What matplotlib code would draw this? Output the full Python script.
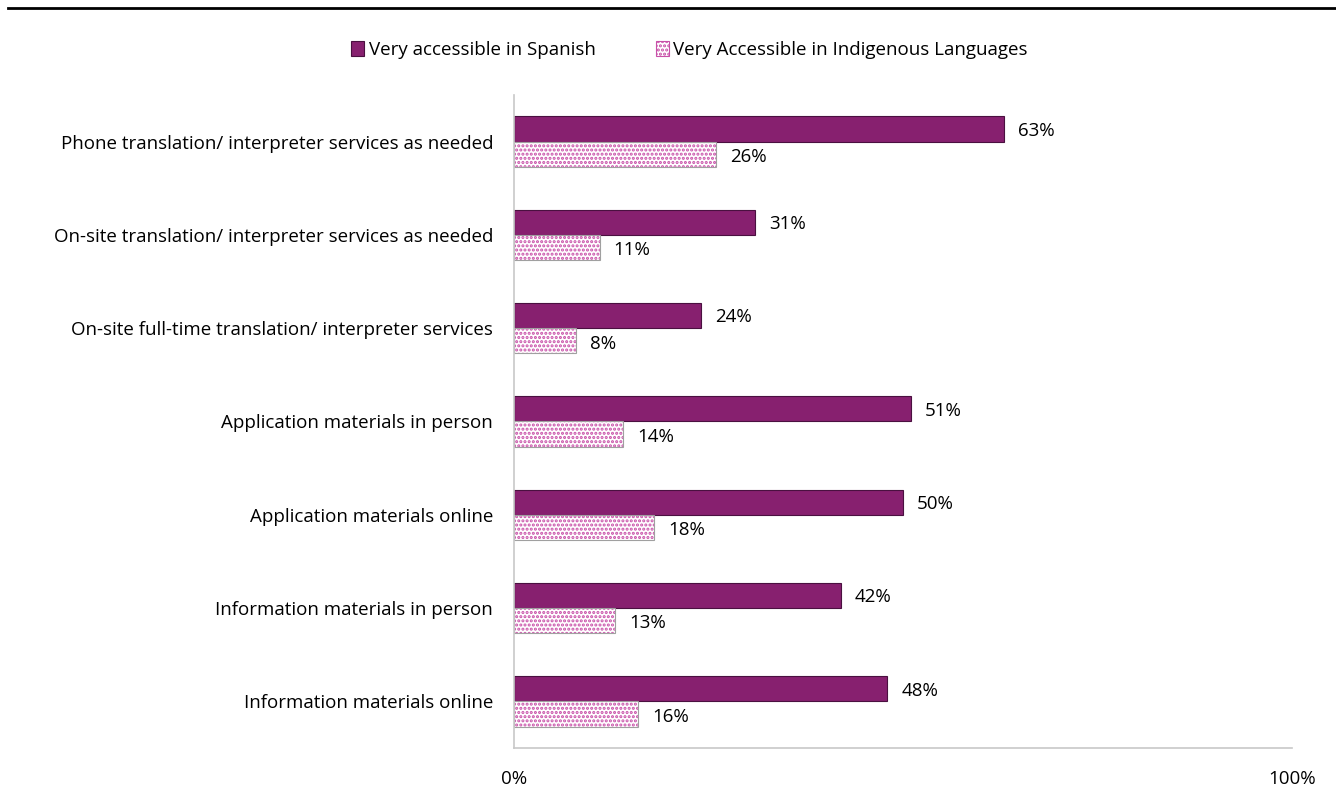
import matplotlib.pyplot as plt
from matplotlib.lines import Line2D
from matplotlib.patches import Patch

plt.rcParams['font.family'] = ['Open Sans', 'DejaVu Sans']
plt.rcParams['hatch.linewidth'] = 1.5

categories = [
    "Phone translation/ interpreter services as needed",
    "On-site translation/ interpreter services as needed",
    "On-site full-time translation/ interpreter services",
    "Application materials in person",
    "Application materials online",
    "Information materials in person",
    "Information materials online",
]
spanish = [63, 31, 24, 51, 50, 42, 48]
indigenous = [26, 11, 8, 14, 18, 13, 16]

purple = '#87206f'
dots = '#c84fa8'
fs = 13.5

fig = plt.figure(figsize=(13.36, 7.91), dpi=100)
ax = fig.add_axes([0.3847, 0.0544, 0.5823, 0.8256])

n = len(categories)
ypos = list(range(n))
h = 0.27

ax.barh([y - h / 2 for y in ypos], spanish, height=h, color=purple,
        edgecolor='#4a1040', linewidth=0.8)
ax.barh([y + h / 2 for y in ypos], indigenous, height=h, color='white',
        edgecolor=dots, hatch='....', linewidth=0)
ax.barh([y + h / 2 for y in ypos], indigenous, height=h, color='none',
        edgecolor='#a0a0a0', linewidth=0.8)

for y, v in zip(ypos, spanish):
    ax.text(v + 1.8, y - h / 2 + 0.02, f"{v}%", va='center', ha='left', fontsize=fs)
for y, v in zip(ypos, indigenous):
    ax.text(v + 1.8, y + h / 2 + 0.03, f"{v}%", va='center', ha='left', fontsize=fs)

ax.set_ylim(n - 0.5, -0.5)
ax.set_xlim(0, 100)
ax.set_yticks(ypos)
ax.set_yticklabels(categories, fontsize=fs)
ax.set_xticks([0, 100])
ax.set_xticklabels(['0%', '100%'], fontsize=fs)
ax.tick_params(length=0)
ax.tick_params(axis='y', pad=15)
ax.tick_params(axis='x', pad=16)
for s in ['top', 'right']:
    ax.spines[s].set_visible(False)
for s in ['left', 'bottom']:
    ax.spines[s].set_color('#c8c8c8')
    ax.spines[s].set_linewidth(1.2)

handles = [
    Patch(facecolor=purple, edgecolor='#4a1040', linewidth=0.8),
    Patch(facecolor='white', edgecolor=dots, hatch='....', linewidth=0.8),
]
fig.legend(handles, ['Very accessible in Spanish', 'Very Accessible in Indigenous Languages'],
           loc='center', bbox_to_anchor=(0.516, 0.937), ncol=2, frameon=False,
           fontsize=fs, handlelength=0.7, handleheight=0.9, handletextpad=0.25,
           columnspacing=3.2)

fig.add_artist(Line2D([0.006, 1.0], [0.99, 0.99], color='black', linewidth=2,
                      transform=fig.transFigure))

fig.savefig('out.png', dpi=100)
